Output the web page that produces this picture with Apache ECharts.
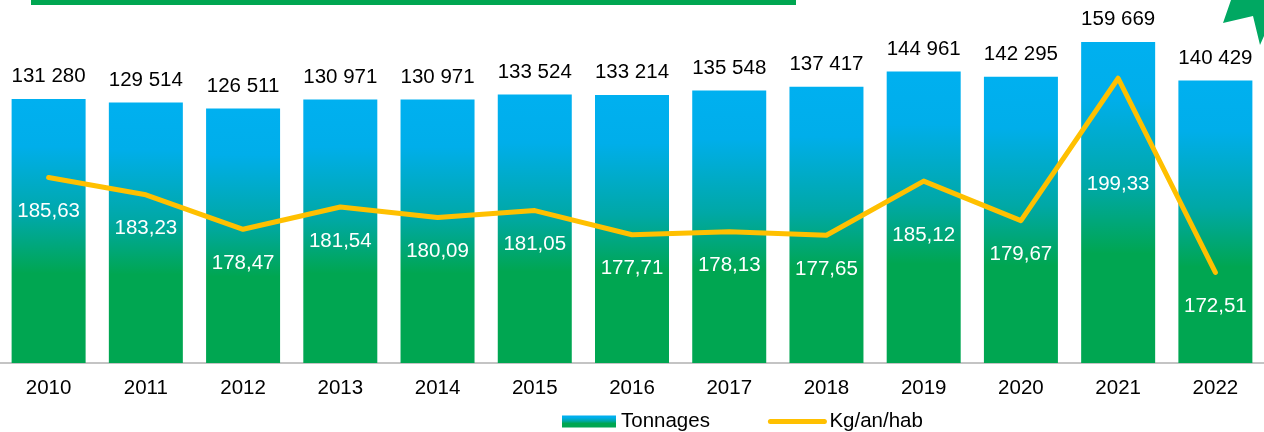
<!DOCTYPE html>
<html>
<head>
<meta charset="utf-8">
<script src="https://cdn.jsdelivr.net/npm/echarts@6/dist/echarts.min.js"></script>
<style>
  html, body { margin: 0; padding: 0; background: #fff; }
  #main { width: 1264px; height: 432px; }
</style>
</head>
<body>
<div id="main"></div>
<script>
// données
const years = ['2010', '2011', '2012', '2013', '2014', '2015', '2016', '2017', '2018', '2019', '2020', '2021', '2022'];
const tonnages = [131280, 129514, 126511, 130971, 130971, 133524, 133214, 135548, 137417, 144961, 142295, 159669, 140429];
const kgHab = [185.63, 183.23, 178.47, 181.54, 180.09, 181.05, 177.71, 178.13, 177.65, 185.12, 179.67, 199.33, 172.51];

let chartDom = document.getElementById('main');
let myChart = echarts.init(chartDom);
let option;

const font = 'Liberation Sans, Arial, sans-serif';

// espace de milliers : 131 280
function fmtTonnes(v) {
  return String(v).replace(/\B(?=(\d{3})+(?!\d))/g, ' ');
}
function fmtKg(v) {
  return v.toFixed(2).replace('.', ',');
}

// quelques étiquettes sont plus bas que les autres
const extraDist = { 9: 20, 11: 72 };

option = {
  animation: false,
  textStyle: { fontFamily: font },
  graphic: [
    {
      type: 'rect',
      shape: { x: 31, y: 0, width: 765, height: 5 },
      style: { fill: '#00a651' }
    },
    {
      type: 'polygon',
      shape: { points: [[1223, 23], [1231, 0], [1264, 0], [1264, 36], [1260, 45], [1253, 16]] },
      style: { fill: '#00a862' }
    }
  ],
  grid: { left: -3, right: -3, top: 1, bottom: 69, containLabel: false },
  legend: {
    left: 557,
    top: 406,
    itemWidth: 54,
    itemHeight: 12,
    itemGap: 58,
    textStyle: { fontSize: 20.5, color: '#000', fontFamily: font },
    data: [
      { name: 'Tonnages', icon: 'rect' },
      {
        name: 'Kg/an/hab',
        lineStyle: { width: 5, cap: 'round', color: '#ffc000' },
        itemStyle: { opacity: 0 }
      }
    ]
  },
  xAxis: {
    type: 'category',
    data: years,
    axisLine: { lineStyle: { color: '#b0b0b0', width: 1.5 } },
    axisTick: { show: false },
    axisLabel: { fontSize: 20.5, color: '#000', margin: 15, fontFamily: font }
  },
  yAxis: [
    { type: 'value', min: 0, max: 180000, show: false, splitLine: { show: false } },
    { type: 'value', min: 160, max: 210, show: false, splitLine: { show: false } }
  ],
  series: [
    {
      name: 'Tonnages',
      type: 'bar',
      barWidth: 74,
      data: tonnages,
      itemStyle: {
        color: new echarts.graphic.LinearGradient(0, 0, 0, 1, [
          { offset: 0, color: '#00b0f0' },
          { offset: 0.18, color: '#00aeea' },
          { offset: 0.45, color: '#00a8a6' },
          { offset: 0.66, color: '#00a651' },
          { offset: 1, color: '#00a651' }
        ])
      },
      label: {
        show: true,
        position: 'top',
        distance: 12,
        fontSize: 20.5,
        color: '#000',
        fontFamily: font,
        formatter: p => fmtTonnes(p.value)
      }
    },
    {
      name: 'Kg/an/hab',
      type: 'line',
      yAxisIndex: 1,
      symbol: 'circle',
      symbolSize: 1,
      showSymbol: true,
      data: kgHab.map((v, i) => ({
        value: v,
        label: { distance: 23 + (extraDist[i] || 0) }
      })),
      lineStyle: { color: '#ffc000', width: 5, cap: 'round', join: 'round' },
      itemStyle: { color: '#ffc000' },
      label: {
        show: true,
        position: 'bottom',
        fontSize: 20.5,
        color: '#fff',
        fontFamily: font,
        formatter: p => fmtKg(p.value)
      },
      z: 3
    }
  ]
};
option && myChart.setOption(option);
</script>
</body>
</html>
